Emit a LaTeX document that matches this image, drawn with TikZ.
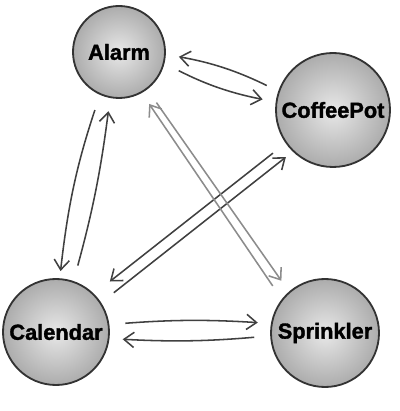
\documentclass[tikz,border=0pt]{standalone}
\usepackage{fontspec}
\setmainfont{Liberation Sans}
\newfontfamily\labelfont[BoldFeatures={FakeBold=1.5}]{Liberation Sans}
\usetikzlibrary{arrows.meta}

\begin{document}
\begin{tikzpicture}[line width=1.1pt,
    ball/.style={circle, draw=black!80, line width=1.3pt, inner sep=0pt, inner color=gray!18, outer color=gray!65, font=\fontsize{15.5}{18}\labelfont\bfseries},
    link/.style={draw=black!75, line width=1.1pt, -{Straight Barb[length=0.25cm, width=0.38cm]}, shorten <=0.4cm, shorten >=0.33cm},
    greylink/.style={link, draw=black!45}]
    \useasboundingbox (0, 0) rectangle (10, 10.275);

    % draw objects
    \node[ball, minimum size=2.3cm] (alarm) at (2.975, 8.975) {Alarm};
    \node[ball, minimum size=2.85cm] (coffeepot) at (8.325, 7.525) {CoffeePot};
    \node[ball, minimum size=2.65cm] (calendar) at (1.4, 1.975) {Calendar};
    \node[ball, minimum size=2.7cm] (sprinkler) at (8.125, 1.95) {Sprinkler};

    % draw messages between alarm and coffeepot
    \draw[link, shorten <=0.32cm] (coffeepot.161) to[bend right=8] (alarm.-3);
    \draw[link] (alarm.-14) to[bend right=8] (coffeepot.172);

    % draw messages between alarm and calendar
    \draw[link, shorten >=0.18cm] (alarm.-114) to[bend right=6] (calendar.86);
    \draw[link] (calendar.71) to[bend right=4] (alarm.-101);

    % draw messages between coffeepot and calendar
    \draw[link, shorten >=0.5cm] (coffeepot.-145) -- (calendar.45);
    \draw[link, shorten >=0.22cm] (calendar.33) -- (coffeepot.-134);

    % draw messages between alarm and sprinkler
    \draw[greylink] (alarm.-53) -- (sprinkler.131);
    \draw[greylink] (sprinkler.142) -- (alarm.-61);

    % draw messages between calendar and sprinkler
    \draw[link] (calendar.8) to[bend left=4] (sprinkler.170);
    \draw[link] (sprinkler.-177) to[bend left=4] (calendar.-7);
\end{tikzpicture}
\end{document}
